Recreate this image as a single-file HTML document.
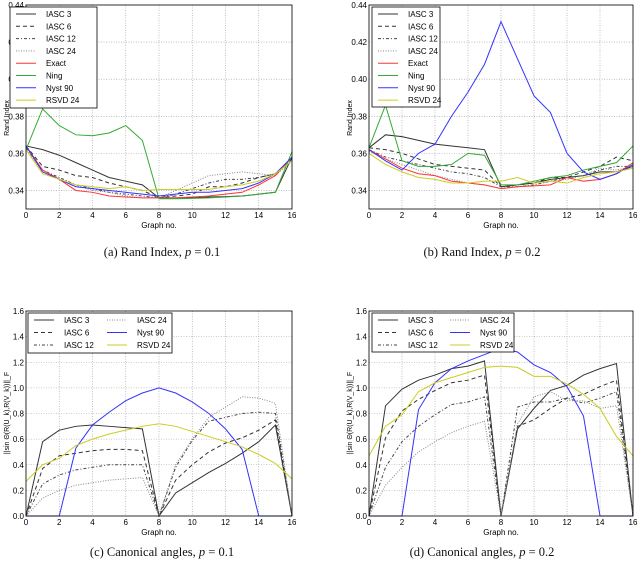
<!DOCTYPE html>
<html><head><meta charset="utf-8"><style>
body{margin:0;background:#fff;width:640px;height:570px;overflow:hidden;font-family:"Liberation Sans",sans-serif}
svg{position:absolute;left:0;top:0}
.cap{position:absolute;font-family:"Liberation Serif",serif;font-size:12.5px;color:#111;white-space:nowrap;transform:translateX(-50%)}
</style></head><body>
<svg id="s" width="640" height="570"></svg>
<div class="cap" style="left:162px;top:245px">(a) Rand Index, <i>p</i> = 0.1</div>
<div class="cap" style="left:482px;top:245px">(b) Rand Index, <i>p</i> = 0.2</div>
<div class="cap" style="left:162px;top:545px">(c) Canonical angles, <i>p</i> = 0.1</div>
<div class="cap" style="left:482px;top:545px">(d) Canonical angles, <i>p</i> = 0.2</div>
<script>
const xs=[0,1,2,3,4,5,6,7,8,9,10,11,12,13,14,15,16];
const xTicks=[0,2,4,6,8,10,12,14,16];
const randTicks=[0.34,0.36,0.38,0.40,0.42,0.44];
const angTicks=[0.0,0.2,0.4,0.6,0.8,1.0,1.2,1.4,1.6];
// (a)
const a_iasc3=[.364,.362,.359,.355,.351,.347,.345,.343,.336,.336,.336,.3365,.3367,.337,.338,.339,.358];
const a_iasc6=[.364,.353,.351,.348,.347,.344,.342,.340,.336,.337,.338,.342,.342,.344,.347,.349,.357];
const a_iasc12=[.363,.351,.347,.343,.341,.339,.338,.337,.336,.338,.341,.344,.346,.346,.347,.349,.356];
const a_iasc24=[.363,.350,.346,.343,.340,.339,.337,.336,.336,.340,.344,.348,.349,.350,.349,.348,.356];
const a_exact=[.364,.351,.346,.340,.339,.337,.3365,.336,.336,.336,.3365,.337,.338,.339,.343,.348,.358];
const a_ning=[.362,.384,.375,.370,.3695,.371,.375,.367,.3355,.3355,.3357,.336,.3365,.337,.338,.339,.361];
const a_nyst=[.364,.350,.346,.342,.341,.340,.339,.338,.337,.338,.339,.339,.340,.341,.344,.349,.358];
const a_rsvd=[.362,.349,.346,.343,.342,.341,.342,.340,.3405,.3405,.3405,.3405,.342,.343,.345,.349,.356];
// (b)
const b_iasc3=[.363,.370,.369,.367,.365,.364,.363,.362,.342,.343,.344,.346,.347,.348,.350,.350,.353];
const b_iasc6=[.363,.362,.360,.357,.354,.353,.352,.351,.342,.343,.344,.347,.347,.350,.353,.358,.356];
const b_iasc12=[.362,.358,.356,.354,.352,.350,.349,.347,.342,.342,.343,.345,.347,.348,.351,.353,.353];
const b_iasc24=[.361,.357,.354,.351,.348,.346,.344,.343,.341,.342,.343,.345,.346,.348,.352,.351,.353];
const b_exact=[.362,.357,.352,.349,.348,.345,.344,.343,.341,.342,.3425,.343,.347,.345,.346,.349,.355];
const b_ning=[.363,.386,.356,.353,.353,.354,.360,.359,.343,.343,.345,.347,.348,.351,.353,.355,.364];
const b_nyst=[.362,.356,.351,.360,.365,.380,.393,.408,.431,.411,.391,.382,.360,.350,.346,.349,.354];
const b_rsvd=[.360,.354,.350,.347,.346,.344,.344,.345,.345,.347,.344,.345,.344,.347,.349,.350,.352];
// (c)
const c_iasc3=[0,.58,.67,.70,.71,.70,.69,.68,0,.18,.26,.34,.41,.49,.58,.71,0];
const c_iasc6=[0,.37,.47,.49,.51,.52,.52,.51,0,.28,.40,.50,.57,.61,.67,.75,0];
const c_iasc12=[0,.25,.32,.36,.38,.40,.40,.40,0,.38,.59,.74,.77,.80,.81,.80,0];
const c_iasc24=[0,.14,.20,.24,.26,.28,.29,.30,0,.40,.60,.77,.85,.93,.92,.88,0];
const c_nyst=[0,0,0,.53,.71,.81,.90,.96,1.0,.96,.89,.80,.68,.52,0,0,0];
const c_rsvd=[.27,.40,.45,.55,.60,.64,.67,.70,.72,.70,.66,.62,.58,.54,.48,.41,.29];
// (d)
const d_iasc3=[0,.86,.99,1.06,1.10,1.15,1.17,1.21,0,.68,.84,.98,1.02,1.10,1.15,1.19,0];
const d_iasc6=[0,.61,.82,.91,.98,1.04,1.06,1.10,0,.70,.75,.84,.92,.95,1.01,1.06,0];
const d_iasc12=[0,.38,.58,.70,.79,.87,.89,.93,0,.85,.89,.89,.92,.88,.92,.97,0];
const d_iasc24=[0,.24,.38,.50,.58,.65,.70,.74,0,.72,.93,.97,.90,.90,.84,.86,0];
const d_nyst=[0,0,0,.83,1.04,1.15,1.21,1.26,1.31,1.28,1.18,1.12,1.01,.78,0,0,0];
const d_rsvd=[.47,.70,.79,.97,1.04,1.08,1.12,1.16,1.17,1.16,1.09,1.09,1.03,.95,.84,.62,.47];

const STY={
 'IASC 3':{c:'#333',d:''},
 'IASC 6':{c:'#333',d:'4,3'},
 'IASC 12':{c:'#444',d:'3,2,1,2'},
 'IASC 24':{c:'#888',d:'1,1.5'},
 'Exact':{c:'#f33',d:''},
 'Ning':{c:'#3a3',d:''},
 'Nyst 90':{c:'#33f',d:''},
 'RSVD 24':{c:'#cc2',d:''}
};
const svg=document.getElementById('s');
const NS='http://www.w3.org/2000/svg';
function mk(t,at,parent){const e=document.createElementNS(NS,t);for(const k in at)e.setAttribute(k,at[k]);(parent||svg).appendChild(e);return e;}
function txt(x,y,s,anchor,size,parent,rot){const e=mk('text',{x:x,y:y,'text-anchor':anchor,'font-size':size,fill:'#000','font-family':'Liberation Sans, sans-serif'},parent);if(rot)e.setAttribute('transform',rot);e.textContent=s;return e;}

function chart(id,L,R,T,B,ymin,ymax,yt,ydec,ylabel,ylabY,series,leg){
 const g=mk('g',{});
 
 
 const X=v=>L+(v-0)/16*(R-L), Y=v=>B-(v-ymin)/(ymax-ymin)*(B-T);
 xTicks.forEach(t=>{const l=mk('line',{x1:X(t),x2:X(t),y1:T,y2:B,stroke:'#999','stroke-width':0.6,'stroke-dasharray':'1,1.5'},g);
  const tl=txt(X(t),B+9,String(t),'middle',8,g);});
 yt.forEach(t=>{const l=mk('line',{x1:L,x2:R,y1:Y(t),y2:Y(t),stroke:'#999','stroke-width':0.6,'stroke-dasharray':'1,1.5'},g);
  const tl=txt(L-2,Y(t)+3,t.toFixed(ydec),'end',8,g);});
 series.forEach(([name,vals])=>{const s=STY[name];
  const p=mk('polyline',{points:xs.map((x,i)=>X(x)+','+Y(vals[i])).join(' '),fill:'none',stroke:s.c,'stroke-width':1,'stroke-dasharray':s.d},g);
  
  });
 const fr=mk('rect',{x:L,y:T,width:R-L,height:B-T,fill:'none',stroke:'#000','stroke-width':0.8},g);
 
 const xl=txt((L+R)/2,B+19,'Graph no.','middle',8,g);
 const yl=txt(0,0,ylabel,'middle',7,g,'translate('+(L-17)+','+ylabY+') rotate(-90)');
 const lg=mk('g',{},g);
 const lr=mk('rect',{x:leg.x,y:leg.y,width:leg.w,height:leg.h,fill:'#fff',stroke:'#000','stroke-width':0.8},lg);
 
 leg.items.forEach((n,i)=>{const col=Math.floor(i/leg.rows),row=i%leg.rows;
  const bx=leg.x+6+col*leg.cw,by=leg.y+7+row*leg.rh;const s=STY[n];
  const ln=mk('line',{x1:bx,x2:bx+20,y1:by,y2:by,stroke:s.c,'stroke-width':1,'stroke-dasharray':s.d},lg);
  
  const t=txt(bx+30,by+3,n,'start',8,lg);});
}
const allRand=['IASC 3','IASC 6','IASC 12','IASC 24','Exact','Ning','Nyst 90','RSVD 24'];
const angNames=['IASC 3','IASC 6','IASC 12','IASC 24','Nyst 90','RSVD 24'];
chart('a',26,292,5,209,0.33,0.44,randTicks,2,'Rand Index',118,
 [['IASC 3',a_iasc3],['IASC 6',a_iasc6],['IASC 12',a_iasc12],['IASC 24',a_iasc24],['Exact',a_exact],['Ning',a_ning],['Nyst 90',a_nyst],['RSVD 24',a_rsvd]],
 {x:10,y:7,w:87,h:101,rows:8,cw:0,rh:12.3,items:allRand});
chart('b',369,633,5,209,0.33,0.44,randTicks,2,'Rand Index',118,
 [['IASC 3',b_iasc3],['IASC 6',b_iasc6],['IASC 12',b_iasc12],['IASC 24',b_iasc24],['Exact',b_exact],['Ning',b_ning],['Nyst 90',b_nyst],['RSVD 24',b_rsvd]],
 {x:372,y:7,w:68,h:100,rows:8,cw:0,rh:12.3,items:allRand});
chart('c',26,292,311,516,0,1.6,angTicks,1,'||sin Θ(R(U_k),R(V_k))||_F',413,
 [['IASC 3',c_iasc3],['IASC 6',c_iasc6],['IASC 12',c_iasc12],['IASC 24',c_iasc24],['Nyst 90',c_nyst],['RSVD 24',c_rsvd]],
 {x:28,y:313,w:144,h:40,rows:3,cw:73,rh:12.5,items:angNames});
chart('d',369,633,311,516,0,1.6,angTicks,1,'||sin Θ(R(U_k),R(V_k))||_F',413,
 [['IASC 3',d_iasc3],['IASC 6',d_iasc6],['IASC 12',d_iasc12],['IASC 24',d_iasc24],['Nyst 90',d_nyst],['RSVD 24',d_rsvd]],
 {x:372,y:313,w:142,h:39,rows:3,cw:72,rh:12.5,items:angNames});
</script>
</body></html>
